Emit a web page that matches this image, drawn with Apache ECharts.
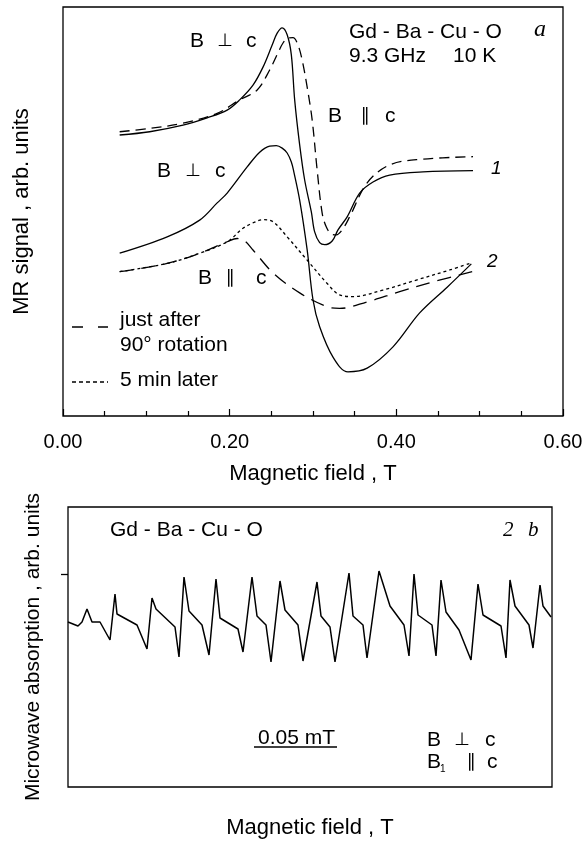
<!DOCTYPE html>
<html>
<head>
<meta charset="utf-8">
<script src="https://cdn.jsdelivr.net/npm/echarts@6/dist/echarts.min.js"></script>
<style>
  html, body { margin: 0; padding: 0; background: #fff; }
  #chart { width: 586px; height: 848px; }
</style>
</head>
<body>
<div id="chart"></div>
<script>
// panel a: MR signal (arb. units) vs magnetic field (T)
const perpUpper = [
  [0.068, 68.7], [0.104, 69.5], [0.144, 71.1], [0.173, 72.9], [0.197, 74.8], [0.212, 77.3],
  [0.228, 80.9], [0.240, 85.3], [0.251, 90.7], [0.257, 93.6], [0.263, 94.9], [0.269, 93.2],
  [0.274, 88.3], [0.278, 77.3], [0.284, 66.3], [0.290, 57.7], [0.298, 49.9], [0.302, 45.0],
  [0.308, 42.4], [0.314, 41.9], [0.323, 42.8], [0.330, 45.5], [0.341, 48.7], [0.356, 54.5],
  [0.372, 57.2], [0.392, 58.9], [0.432, 59.7], [0.492, 60.0]
]
const parUpper = [
  [0.068, 69.5], [0.104, 70.3], [0.144, 71.6], [0.185, 74.0], [0.212, 77.3], [0.233, 79.7],
  [0.248, 84.6], [0.258, 88.8], [0.264, 91.2], [0.270, 92.4], [0.276, 92.5], [0.282, 90.7],
  [0.287, 87.0], [0.293, 80.4], [0.299, 72.4], [0.305, 60.1], [0.311, 49.6], [0.316, 46.2],
  [0.322, 44.5], [0.328, 44.3], [0.335, 45.5], [0.344, 48.7], [0.365, 57.0], [0.392, 61.4],
  [0.432, 62.8], [0.492, 63.4]
]
const perpLower = [
  [0.068, 39.8], [0.125, 43.8], [0.164, 47.9], [0.185, 52.1], [0.197, 54.5], [0.221, 60.9],
  [0.236, 64.5], [0.248, 66.0], [0.256, 66.1], [0.263, 65.5], [0.269, 64.3], [0.274, 62.1],
  [0.277, 59.7], [0.284, 52.8], [0.293, 40.6], [0.300, 28.4], [0.308, 21.8], [0.324, 14.4],
  [0.342, 10.8], [0.365, 11.7], [0.396, 16.9], [0.428, 25.2], [0.461, 31.5], [0.490, 37.2]
]
const parJustAfter = [
  [0.068, 35.3], [0.125, 37.3], [0.164, 39.8], [0.197, 42.6], [0.209, 43.4], [0.218, 42.8],
  [0.228, 40.6], [0.252, 35.0], [0.284, 30.1], [0.317, 26.7], [0.332, 26.3], [0.365, 27.9],
  [0.404, 30.4], [0.444, 32.8], [0.491, 35.3]
]
const parFiveMin = [
  [0.068, 35.3], [0.125, 37.3], [0.164, 39.8], [0.197, 42.6], [0.216, 45.9], [0.230, 47.4],
  [0.240, 48.0], [0.252, 47.5], [0.269, 43.8], [0.293, 38.1], [0.317, 32.4], [0.332, 29.6],
  [0.348, 29.2], [0.384, 30.8], [0.425, 33.3], [0.464, 35.7], [0.491, 37.5]
]

// panel b: microwave absorption (arb.) vs field sweep (arb. steps, 83 steps = 0.05 mT)
const absorption = [
  [0, 165], [10, 161], [14, 165], [19, 178], [24, 165], [32, 165], [42, 147], [47, 193],
  [49, 173], [69, 162], [79, 138], [84, 189], [88, 178], [107, 160], [111, 130], [116, 210],
  [121, 176], [134, 162], [141, 132], [148, 208], [152, 169], [170, 158], [175, 135], [184, 210],
  [189, 171], [198, 162], [203, 125], [212, 206], [217, 177], [230, 162], [235, 126], [249, 205],
  [253, 171], [262, 160], [267, 125], [281, 214], [285, 171], [295, 162], [299, 129], [311, 216],
  [322, 181], [336, 162], [341, 131], [346, 213], [350, 172], [364, 162], [368, 131], [373, 207],
  [378, 175], [391, 157], [403, 127], [410, 203], [415, 172], [433, 161], [438, 129], [442, 207],
  [447, 181], [461, 162], [465, 139], [472, 202], [475, 181], [483, 170]
]
const scaleBar = [[186, 40], [269, 40]]
const absorptionTicks = [213]

const chart = echarts.init(document.getElementById('chart'))

const SANS = '"Liberation Sans", Arial, "DejaVu Sans", sans-serif'
const SERIF = '"Liberation Serif", "DejaVu Serif", serif'

const label = (text, x, y, opts = {}) => ({
  type: 'text',
  x,
  y,
  style: {
    text,
    fill: '#000',
    font: opts.font || `21px ${SANS}`,
    align: opts.align || 'left',
    verticalAlign: 'middle',
  },
})

// legend key strokes
const key = (x1, x2, y, dash) => ({
  type: 'line',
  shape: { x1, y1: y, x2, y2: y },
  style: { stroke: '#000', lineWidth: 1.3, lineDash: dash },
})

const curve = (name, data, type, xi) => ({
  name,
  type: 'line',
  xAxisIndex: xi,
  yAxisIndex: xi,
  data,
  showSymbol: false,
  symbol: 'none',
  smooth: xi === 0 ? 0.35 : false,
  silent: true,
  lineStyle: { color: '#000', width: xi === 0 ? 1.3 : 1.5, type },
})

chart.setOption({
  animation: false,
  backgroundColor: '#fff',
  grid: [
    { left: 63, top: 7, width: 500, height: 409, show: true, borderColor: '#000', borderWidth: 1.3 },
    { left: 68, top: 507, width: 484, height: 280, show: true, borderColor: '#000', borderWidth: 1.3 },
  ],
  xAxis: [
    {
      gridIndex: 0,
      type: 'value',
      min: 0,
      max: 0.6,
      interval: 0.2,
      axisLine: { show: false },
      splitLine: { show: false },
      axisTick: { inside: true, length: 7, lineStyle: { color: '#000', width: 1.2 } },
      minorTick: { show: true, splitNumber: 4, length: 5, lineStyle: { color: '#000', width: 1.2 } },
      axisLabel: { color: '#000', fontSize: 20, fontFamily: SANS, margin: 16, formatter: (v) => v.toFixed(2) },
      name: 'Magnetic field , T',
      nameLocation: 'middle',
      nameGap: 47,
      nameTextStyle: { color: '#000', fontSize: 22, fontFamily: SANS },
    },
    {
      gridIndex: 1,
      type: 'value',
      min: 0,
      max: 484,
      axisLine: { show: false },
      axisTick: { show: false },
      axisLabel: { show: false },
      splitLine: { show: false },
      name: 'Magnetic field , T',
      nameLocation: 'middle',
      nameGap: 30,
      nameTextStyle: { color: '#000', fontSize: 22, fontFamily: SANS },
    },
  ],
  yAxis: [
    {
      gridIndex: 0,
      type: 'value',
      min: 0,
      max: 100,
      axisLine: { show: false },
      axisTick: { show: false },
      axisLabel: { show: false },
      splitLine: { show: false },
      name: 'MR signal , arb. units',
      nameLocation: 'middle',
      nameRotate: 90,
      nameGap: 30,
      nameTextStyle: { color: '#000', fontSize: 22, fontFamily: SANS },
    },
    {
      gridIndex: 1,
      type: 'value',
      min: 0,
      max: 280,
      interval: 213,
      axisLine: { show: false },
      axisTick: { show: true, length: 7, customValues: absorptionTicks, lineStyle: { color: '#000', width: 1.3 } },
      axisLabel: { show: false },
      splitLine: { show: false },
      name: 'Microwave absorption , arb. units',
      nameLocation: 'middle',
      nameRotate: 90,
      nameGap: 24,
      nameTextStyle: { color: '#000', fontSize: 21, fontFamily: SANS },
    },
  ],
  series: [
    curve('perpUpper', perpUpper, 'solid', 0),
    curve('parUpper', parUpper, [10, 6], 0),
    curve('perpLower', perpLower, 'solid', 0),
    curve('just after 90° rotation', parJustAfter, [14, 8], 0),
    curve('5 min later', parFiveMin, [3, 3], 0),
    curve('absorption', absorption, 'solid', 1),
    curve('scaleBar', scaleBar, 'solid', 1),
  ],
  graphic: [
    // panel a
    label('B', 190, 41), label('⊥', 225, 41, { align: 'center', font: `18px ${SANS}` }), label('c', 246, 41),
    label('B', 328, 116), label('∥', 365, 116, { align: 'center', font: `18px ${SANS}` }), label('c', 385, 116),
    label('B', 157, 171), label('⊥', 193, 171, { align: 'center', font: `18px ${SANS}` }), label('c', 215, 171),
    label('B', 198, 278), label('∥', 230, 278, { align: 'center', font: `18px ${SANS}` }), label('c', 256, 278),
    label('Gd - Ba - Cu - O', 349, 32),
    label('9.3 GHz', 349, 56),
    label('10 K', 453, 56),
    label('a', 540, 30, { align: 'center', font: `italic 24px ${SERIF}` }),
    label('1', 491, 169, { font: `italic 19px ${SANS}` }),
    label('2', 487, 262, { font: `italic 19px ${SANS}` }),
    key(72, 108, 327, [11, 15]),
    label('just after', 120, 320),
    label('90° rotation', 120, 345),
    key(72, 108, 382, [4, 3]),
    label('5 min later', 120, 380),
    // panel b
    label('Gd - Ba - Cu - O', 110, 530),
    label('2', 503, 530, { font: `italic 21px ${SERIF}` }),
    label('b', 528, 530, { font: `italic 21px ${SERIF}` }),
    label('0.05 mT', 258, 738),
    label('B', 427, 740), label('⊥', 462, 740, { align: 'center', font: `18px ${SANS}` }), label('c', 485, 740),
    label('B', 427, 762), label('1', 440, 769, { font: `10px ${SANS}` }),
    label('∥', 471, 762, { align: 'center', font: `18px ${SANS}` }), label('c', 487, 762),
  ],
})
</script>
</body>
</html>
